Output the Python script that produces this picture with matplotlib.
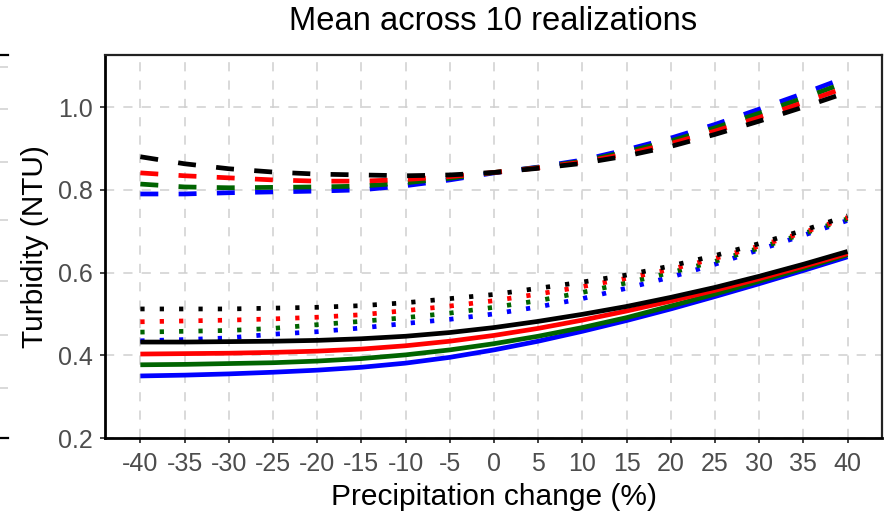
import matplotlib
matplotlib.use("Agg")
import matplotlib.pyplot as plt

plt.rcParams['font.family'] = ['Liberation Sans', 'DejaVu Sans']

# Precipitation change scenarios (%)
precip = [-40, -35, -30, -25, -20, -15, -10, -5, 0, 5, 10, 15, 20, 25, 30, 35, 40]

# Mean turbidity (NTU) per scenario; three line types x four colours
dashed_black = [0.880, 0.863, 0.851, 0.843, 0.838, 0.836, 0.834, 0.836, 0.842,
                0.852, 0.864, 0.882, 0.905, 0.934, 0.966, 1.000, 1.036]
dashed_red = [0.841, 0.834, 0.829, 0.824, 0.821, 0.821, 0.825, 0.832, 0.842,
              0.853, 0.867, 0.887, 0.912, 0.942, 0.975, 1.011, 1.049]
dashed_green = [0.814, 0.807, 0.805, 0.806, 0.807, 0.809, 0.817, 0.828, 0.842,
                0.854, 0.869, 0.892, 0.918, 0.950, 0.985, 1.022, 1.061]
dashed_blue = [0.790, 0.790, 0.793, 0.795, 0.797, 0.800, 0.810, 0.824, 0.841,
               0.855, 0.872, 0.897, 0.925, 0.958, 0.995, 1.033, 1.073]

dotted_black = [0.512, 0.512, 0.512, 0.514, 0.516, 0.520, 0.527, 0.537, 0.547,
                0.562, 0.577, 0.594, 0.616, 0.641, 0.670, 0.702, 0.737]
dotted_red = [0.481, 0.483, 0.485, 0.488, 0.492, 0.498, 0.508, 0.519, 0.532,
              0.548, 0.566, 0.586, 0.608, 0.634, 0.664, 0.697, 0.733]
dotted_green = [0.456, 0.458, 0.460, 0.465, 0.474, 0.482, 0.491, 0.502, 0.516,
                0.532, 0.552, 0.575, 0.600, 0.627, 0.659, 0.694, 0.730]
dotted_blue = [0.435, 0.438, 0.442, 0.451, 0.457, 0.466, 0.477, 0.487, 0.500,
               0.517, 0.537, 0.562, 0.589, 0.620, 0.655, 0.690, 0.726]

solid_black = [0.432, 0.432, 0.433, 0.434, 0.436, 0.440, 0.446, 0.455, 0.467,
               0.482, 0.499, 0.518, 0.540, 0.564, 0.591, 0.620, 0.651]
solid_red = [0.403, 0.404, 0.405, 0.407, 0.410, 0.415, 0.423, 0.434, 0.448,
             0.465, 0.485, 0.507, 0.531, 0.557, 0.585, 0.615, 0.646]
solid_green = [0.377, 0.378, 0.380, 0.382, 0.386, 0.392, 0.401, 0.413, 0.428,
               0.446, 0.467, 0.491, 0.519, 0.548, 0.579, 0.610, 0.643]
solid_blue = [0.350, 0.352, 0.355, 0.359, 0.364, 0.371, 0.381, 0.395, 0.413,
              0.434, 0.458, 0.484, 0.512, 0.542, 0.573, 0.605, 0.638]

colors = {"black": "#000000", "red": "#FF0000", "green": "#006400", "blue": "#0000FF"}

x_ticks = [-40, -35, -30, -25, -20, -15, -10, -5, 0, 5, 10, 15, 20, 25, 30, 35, 40]
x_tick_labels = ["-40", "-35", "-30", "-25", "-20", "-15", "-10", "-5", "0",
                 "5", "10", "15", "20", "25", "30", "35", "40"]
y_ticks = [0.2, 0.4, 0.6, 0.8, 1.0]
y_tick_labels = ["0.2", "0.4", "0.6", "0.8", "1.0"]

W, H = 888, 512
fig = plt.figure(figsize=(W / 100, H / 100), dpi=100)
fig.patch.set_facecolor("white")

L, R, B, T = 105, 882, 438, 55
ax = fig.add_axes([L / W, 1 - B / H, (R - L) / W, (B - T) / H])

grid_color = "#CFCFCF"
lw = 3.4

series = [
    ("dashed", (0, (3.8, 4.3)), [dashed_black, dashed_red, dashed_green, dashed_blue]),
    ("dotted", (0, (0.9, 3.2)), [dotted_black, dotted_red, dotted_green, dotted_blue]),
    ("solid", "-", [solid_black, solid_red, solid_green, solid_blue]),
]
for name, ls, ys in series:
    for cname, y in zip(["blue", "green", "red", "black"], ys[::-1]):
        ax.plot(precip, y, color=colors[cname], linestyle=ls, linewidth=lw,
                dash_capstyle="butt", solid_capstyle="butt",
                solid_joinstyle="round", zorder=3)

ax.set_xlim(-44, 43.9)
ax.set_ylim(0.2, 1.126)
ax.set_xticks(x_ticks)
ax.set_xticklabels(x_tick_labels)
ax.set_yticks(y_ticks)
ax.set_yticklabels(y_tick_labels)

ax.grid(True, color=grid_color, linestyle=(0, (6, 6)), linewidth=1.1, zorder=0)
ax.set_axisbelow(True)

for s in ax.spines.values():
    s.set_color("#222222")
    s.set_linewidth(1.6)
for side in ("left", "bottom"):
    ax.spines[side].set_color("black")
    ax.spines[side].set_linewidth(2.0)

ax.tick_params(axis="both", which="major", length=3.6, width=1.3, color="#333333",
               labelcolor="#4D4D4D", labelsize=18)
ax.tick_params(axis="x", pad=6.5)
ax.tick_params(axis="y", pad=5)

fig.text((L + R) / 2 / W, 1 - 22 / H, "Mean across 10 realizations",
         fontsize=23.6, color="black", ha="center", va="center")
ax.set_xlabel("Precipitation change (%)", fontsize=21.5, color="black", va="center")
ax.xaxis.set_label_coords(0.5, (B - 497) / (B - T))
ax.set_ylabel("Turbidity (NTU)", fontsize=21.5, color="black", va="center")
ax.yaxis.set_label_coords((35 - L) / (R - L), (B - 247) / (B - T))

# Edge of the neighbouring panel on the left
nb = fig.add_axes([-200 / W, 1 - B / H, 208 / W, (B - T) / H])
nb.set_xlim(0, 1)
nb.set_ylim(0, 1)
nb.set_xticks([])
nb.set_yticks([0.13, 0.27, 0.41, 0.57, 0.72, 0.86, 0.968])
nb.tick_params(axis="y", length=0, labelleft=False)
nb.grid(True, axis="y", color=grid_color, linestyle=(0, (6, 6)), linewidth=1.1)
for side in ("left", "right"):
    nb.spines[side].set_visible(False)
for side in ("top", "bottom"):
    nb.spines[side].set_color("black")
    nb.spines[side].set_linewidth(1.6)

fig.savefig("out.png", dpi=100, facecolor="white")
